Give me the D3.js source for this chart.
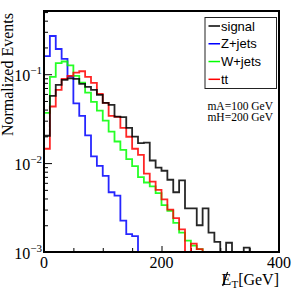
<html>
<head>
<script src="https://d3js.org/d3.v7.min.js"></script>
<style>
  body { margin: 0; background: #fff; }
  text { fill: #000; }
  .serif { font-family: "Liberation Serif", "DejaVu Serif", serif; }
  .sans { font-family: "Liberation Sans", Arial, sans-serif; }
</style>
</head>
<body>
<svg id="chart" width="294" height="294"></svg>
<script>
// 10 GeV bins from 0 to 400 GeV
const binLow = d3.range(0, 400, 10);

const signal = [0.0203, 0.057, 0.0758, 0.0863, 0.0897, 0.0886, 0.0778, 0.072, 0.0667, 0.0585,
                0.0476, 0.0452, 0.0334, 0.0329, 0.0249, 0.0199, 0.0168, 0.0170, 0.0107, 0.0089,
                0.0082, 0.0065, 0.0047, 0.0064, 0.0031, 0.0031, 0.0020, 0.0031, 0.00165, 0.0013,
                0, 0.00127, 0, 0, 0.00112, 0, 0, 0, 0, 0];
const zjets = [0.16, 0.269, 0.192, 0.149, 0.094, 0.047, 0.034, 0.0205, 0.0119, 0.0093,
               0.0072, 0.0047, 0.0043, 0.00225, 0.00159, 0.00151, 0, 0, 0, 0,
               0, 0, 0, 0, 0, 0, 0, 0, 0, 0, 0, 0, 0, 0, 0, 0, 0, 0, 0, 0];
const wjets = [0.0367, 0.0933, 0.133, 0.139, 0.1256, 0.0957, 0.0805, 0.0621, 0.0489, 0.039,
               0.0301, 0.0226, 0.0175, 0.0141, 0.0111, 0.00925, 0.00696, 0.00605, 0.00548, 0.0046,
               0.00336, 0.00291, 0.00213, 0.00165, 0.00134, 0.00118, 0.00108, 0, 0, 0,
               0, 0, 0, 0, 0, 0, 0, 0, 0, 0];
const ttbar = [0.0145, 0.0433, 0.0667, 0.0886, 0.0957, 0.1042, 0.108, 0.0933, 0.0798, 0.0601,
               0.0476, 0.034, 0.0331, 0.0249, 0.0198, 0.0145, 0.0124, 0.0076, 0.0062, 0.0050,
               0.0039, 0.0030, 0.0024, 0.0018, 0, 0.00124, 0.00108, 0, 0, 0,
               0, 0, 0, 0, 0, 0, 0, 0, 0, 0];

const seriesNames = ["signal", "Z+jets", "W+jets", "tt"];
const xMajor = [0, 200, 400];
const xMinor = [50, 100, 150, 250, 300, 350];
const yMajor = [1e-3, 1e-2, 1e-1];
const yExp = ["\u22123", "\u22122", "\u22121"];

const svg = d3.select("svg#chart");
const margin = {top: 11, right: 15, bottom: 42, left: 44};
const width = +svg.attr("width");
const height = +svg.attr("height");
const chartWidth = width - margin.left - margin.right;
const chartHeight = height - margin.top - margin.bottom;

const x = d3.scaleLinear().domain([0, 400]).range([margin.left, margin.left + chartWidth]);
const y = d3.scaleLog().domain([1e-3, 0.514]).range([margin.top + chartHeight, margin.top]);
const yBottom = margin.top + chartHeight;

svg.append("rect").attr("width", width).attr("height", height).attr("fill", "#fff");

svg.append("defs").append("clipPath").attr("id", "plotclip")
   .append("rect").attr("x", margin.left).attr("y", margin.top - 1)
   .attr("width", chartWidth).attr("height", chartHeight + 1);

// ticks (inside the frame)
let yMinorVals = [];
yMajor.forEach(m => { for (let k = 2; k <= 9; k++) if (m * k <= 0.514) yMinorVals.push(m * k); });

const axes = svg.append("g").attr("class", "axes");
axes.append("g").attr("transform", `translate(${margin.left},0)`)
    .call(d3.axisLeft(y).tickValues(yMajor).tickSize(-8).tickFormat(""));
axes.append("g").attr("transform", `translate(${margin.left},0)`)
    .call(d3.axisLeft(y).tickValues(yMinorVals).tickSize(-4).tickFormat(""));
axes.append("g").attr("transform", `translate(0,${yBottom})`)
    .call(d3.axisBottom(x).tickValues(xMajor).tickSize(-6).tickFormat(""));
axes.append("g").attr("transform", `translate(0,${yBottom})`)
    .call(d3.axisBottom(x).tickValues(xMinor).tickSize(-4).tickFormat(""));
axes.selectAll(".domain").remove();
axes.selectAll("line").attr("stroke", "#000").attr("stroke-width", 1);

// histograms
const colors = ["#000000", "#0000ff", "#00ff00", "#ff0000"];
const allSeries = [signal, zjets, wjets, ttbar];
const drawOrder = [1, 2, 3, 0];

const lineGen = d3.line()
    .x(d => x(d[0]))
    .y(d => d[1] > 0 ? y(d[1]) : yBottom + 0.5)
    .curve(d3.curveStepAfter);

const hist = svg.append("g").attr("clip-path", "url(#plotclip)");
drawOrder.forEach(i => {
  const vals = allSeries[i];
  let pts = binLow.map((b, j) => [b, vals[j]]);
  pts.push([400, vals[vals.length - 1]]);
  hist.append("path")
      .attr("d", lineGen(pts))
      .attr("fill", "none")
      .attr("stroke", colors[i])
      .attr("stroke-width", 1.8)
      .attr("stroke-opacity", 0.85);
});

// frame
svg.append("rect")
   .attr("x", margin.left).attr("y", margin.top)
   .attr("width", chartWidth).attr("height", chartHeight)
   .attr("fill", "none").attr("stroke", "#000").attr("stroke-width", 2);

// y tick labels
yMajor.forEach((v, i) => {
  const t = svg.append("text").attr("class", "serif")
      .attr("x", margin.left - 2).attr("y", y(v) + 7)
      .attr("text-anchor", "end").style("font-size", "16px");
  t.append("tspan").text("10");
  t.append("tspan").attr("dy", -7).style("font-size", "11px").text(yExp[i]);
});

// x tick labels
xMajor.forEach(v => {
  svg.append("text").attr("class", "serif")
     .attr("x", x(v)).attr("y", 268)
     .attr("text-anchor", "middle").style("font-size", "16px")
     .text(v);
});

// y title
svg.append("text").attr("class", "serif")
   .attr("transform", `translate(13,${margin.top + 2}) rotate(-90)`)
   .attr("text-anchor", "end").style("font-size", "16px")
   .text("Normalized Events");

// x title: missing E_T [GeV]
const titleBase = 285;
const gev = svg.append("text").attr("class", "serif")
   .attr("x", margin.left + chartWidth).attr("y", titleBase)
   .attr("text-anchor", "end").style("font-size", "16px").text("[GeV]");
const gevStart = margin.left + chartWidth - gev.node().getComputedTextLength();
const sub = svg.append("text").attr("class", "serif")
   .attr("x", gevStart).attr("y", titleBase + 3)
   .attr("text-anchor", "end").style("font-size", "11px").text("T");
const subStart = gevStart - sub.node().getComputedTextLength();
const eT = svg.append("text").attr("class", "serif")
   .attr("x", subStart).attr("y", titleBase)
   .attr("text-anchor", "end").style("font-size", "16px").text("E");
const eStart = subStart - eT.node().getComputedTextLength();
svg.append("line")
   .attr("x1", eStart + 1).attr("y1", titleBase + 1)
   .attr("x2", eStart + 6).attr("y2", titleBase - 13)
   .attr("stroke", "#000").attr("stroke-width", 1.2);

// legend
const legend = svg.append("g");
legend.append("rect")
   .attr("x", 205).attr("y", 17.5).attr("width", 71.5).attr("height", 71)
   .attr("fill", "#fff").attr("stroke", "#222").attr("stroke-width", 1);
const legY = d3.scalePoint().domain(seriesNames).range([26, 79.3]);
seriesNames.forEach((n, i) => {
  legend.append("line")
     .attr("x1", 208.5).attr("x2", 220)
     .attr("y1", legY(n)).attr("y2", legY(n))
     .attr("stroke", colors[i]).attr("stroke-width", 1.5);
  legend.append("text").attr("class", "sans")
     .attr("x", 221).attr("y", legY(n)).attr("dy", "0.36em")
     .style("font-size", "13px").text(n);
});

// mass annotation
const notes = ["mA=100 GeV", "mH=200 GeV"];
notes.forEach((s, i) => {
  svg.append("text").attr("class", "serif")
     .attr("x", 273).attr("y", 109.5 + i * 11)
     .attr("text-anchor", "end").style("font-size", "11.5px").text(s);
});
</script>
</body>
</html>
